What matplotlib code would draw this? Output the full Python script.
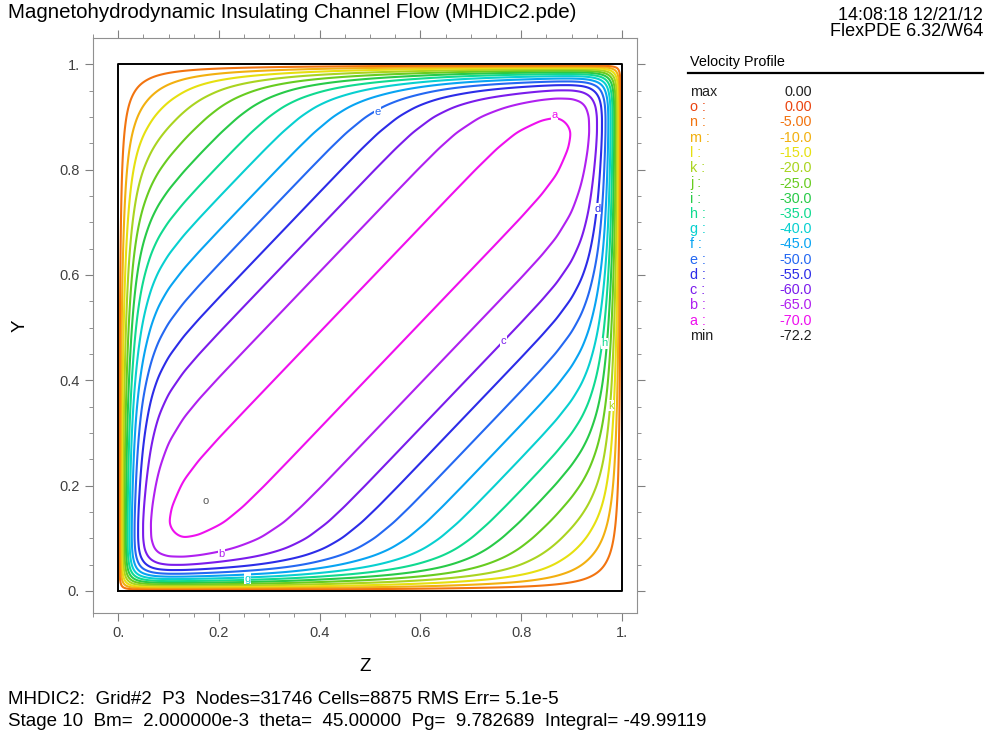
import numpy as np
import matplotlib
matplotlib.use('Agg')
import matplotlib.pyplot as plt

plt.rcParams['font.family'] = ['Liberation Sans', 'DejaVu Sans']

# contour levels of the velocity plot (FlexPDE letters a..o)
level_names = ['a', 'b', 'c', 'd', 'e', 'f', 'g', 'h', 'i', 'j', 'k', 'l', 'm', 'n', 'o']
levels = [-70.0, -65.0, -60.0, -55.0, -50.0, -45.0, -40.0, -35.0, -30.0,
          -25.0, -20.0, -15.0, -10.0, -5.0, 0.0]
level_text = ['-70.0', '-65.0', '-60.0', '-55.0', '-50.0', '-45.0', '-40.0', '-35.0',
              '-30.0', '-25.0', '-20.0', '-15.0', '-10.0', '-5.00', '0.00']
level_colors = ['#ee10ee', '#b020f0', '#7a1cec', '#2c2ce8', '#2468f2', '#08a4f2',
                '#08d0d0', '#10da90', '#28ca48', '#68cc20', '#aad420', '#e6e010',
                '#f2b010', '#f27410', '#ea4410']

# velocity across the diagonal (d = |y - z|)
core_d = [0.0, 0.025, 0.05, 0.095, 0.21, 0.295, 0.357, 0.41, 0.485, 0.548, 0.61,
          0.667, 0.717, 0.8, 0.9, 0.946, 1.0]
core_u = [-72.2, -72.05, -71.6, -70.0, -65.0, -60.0, -55.0, -50.8, -45.0, -40.0,
          -35.0, -30.0, -26.0, -19.0, -9.4, -5.0, 0.0]

# fraction of the core velocity kept near a wall (Hartmann layer)
wall_x = [0.0, 0.005, 0.01, 0.02, 0.03, 0.04, 0.05, 0.065, 0.08, 0.1, 0.13,
          0.16, 0.2, 0.25, 1.0]
wall_f = [0.0, 0.18, 0.33, 0.55, 0.70, 0.80, 0.865, 0.926, 0.96, 0.982, 0.9945,
          0.9983, 0.9997, 1.0, 1.0]

# contour letters drawn on the plot
tag_names = ['a', 'b', 'c', 'd', 'e', 'h', 'k', 'g']
tag_z = [0.866, 0.205, 0.765, 0.951, 0.515, 0.966, 0.978, 0.256]
tag_y = [0.903, 0.070, 0.474, 0.726, 0.910, 0.470, 0.352, 0.023]

info1 = 'MHDIC2:  Grid#2  P3  Nodes=31746 Cells=8875 RMS Err= 5.1e-5'
info2 = 'Stage 10  Bm=  2.000000e-3  theta=  45.00000  Pg=  9.782689  Integral= -49.99119'


def smoothed(xp, fp, lo, hi, sigma, odd=False):
    # piecewise-linear table, softened with a small gaussian so contours have no kinks
    x = np.linspace(lo, hi, 6001)
    sgn = np.sign(x) if odd else 1.0
    f = sgn * np.interp(np.abs(x), xp, fp)
    dx = x[1] - x[0]
    k = np.arange(-int(4 * sigma / dx), int(4 * sigma / dx) + 1) * dx
    k = np.exp(-0.5 * (k / sigma) ** 2)
    k /= k.sum()
    n = len(k) // 2
    fpad = np.concatenate([np.full(n, f[0]), f, np.full(n, f[-1])])
    return x, np.convolve(fpad, k, mode='valid')


cx, cu = smoothed(core_d, core_u, -1.3, 1.3, 0.035)
wx, wf = smoothed(wall_x, wall_f, -0.4, 1.0, 0.005, odd=True)

g = np.linspace(0, 1, 1001)
Z, Y = np.meshgrid(g, g)
wall = lambda x: np.interp(x, wx, wf)
F = wall(Z) * wall(1 - Z) * wall(Y) * wall(1 - Y)
U = np.interp(Y - Z, cx, cu) * F

W, H = 988, 738
fig = plt.figure(figsize=(W / 100, H / 100), dpi=100)
ax = fig.add_axes([93 / W, 1 - 613 / H, 544 / W, 575 / H])

ax.contour(Z, Y, U, levels=levels[:-1], colors=level_colors[:-1], linewidths=1.5)
ax.plot([0, 1, 1, 0, 0], [0, 0, 1, 1, 0], color='black', lw=1.4, zorder=5)

for name, tz, ty in zip(tag_names, tag_z, tag_y):
    c = level_colors[level_names.index(name)]
    ax.text(tz, ty, name, color=c, fontsize=8, ha='center', va='center', zorder=6,
            bbox=dict(facecolor='white', edgecolor='none', pad=0.3))
ax.text(0.173, 0.17, 'o', color='#555555', fontsize=8, ha='center', va='center')

ax.set_xlim(-0.05, 1.03)
ax.set_ylim(-0.042, 1.05)
ticks = [0, 0.2, 0.4, 0.6, 0.8, 1.0]
tick_lbl = ['0.', '0.2', '0.4', '0.6', '0.8', '1.']
ax.set_xticks(ticks, tick_lbl)
ax.set_yticks(ticks, tick_lbl)
ax.set_xticks(np.arange(-0.05, 1.03, 0.05), minor=True)
ax.set_yticks(np.arange(-0.0, 1.05, 0.05), minor=True)
ax.tick_params(which='both', direction='out', color='#808080', labelcolor='#404040',
               labelsize=10.5, top=True, right=True)
ax.tick_params(which='major', length=6)
ax.tick_params(which='minor', length=3)
for s in ax.spines.values():
    s.set_color('#909090')
ax.set_xlabel('Z', fontsize=13.5, labelpad=13)
ax.set_ylabel('Y', fontsize=13.5, labelpad=22)

fig.text(8 / W, 1 - 13 / H, 'Magnetohydrodynamic Insulating Channel Flow (MHDIC2.pde)',
         fontsize=14.8, va='center', ha='left')
fig.text(983 / W, 1 - 15 / H, '14:08:18 12/21/12', fontsize=13, ha='right', va='center')
fig.text(983 / W, 1 - 31 / H, 'FlexPDE 6.32/W64', fontsize=13, ha='right', va='center')

# legend block
fig.text(690 / W, 1 - 62 / H, 'Velocity Profile', fontsize=10.4, va='center')
fig.add_artist(plt.Line2D([688 / W, 983 / W], [1 - 73 / H, 1 - 73 / H], color='black', lw=1.6))
rows = ['max'] + level_names[::-1] + ['min']
vals = ['0.00'] + level_text[::-1] + ['-72.2']
cols = ['#222222'] + level_colors[::-1] + ['#222222']
for i, (r, v, c) in enumerate(zip(rows, vals, cols)):
    yy = 1 - (92 + i * 15.25) / H
    lab = r if r in ('max', 'min') else r + ' :'
    fig.text(690 / W, yy, lab, color=c, fontsize=10.4, va='center')
    fig.text(812 / W, yy, v, color=c, fontsize=10.4, va='center', ha='right')

fig.text(8 / W, 1 - 700 / H, info1, fontsize=13.5, va='center')
fig.text(8 / W, 1 - 722 / H, info2, fontsize=13.5, va='center')

fig.savefig('out.png', dpi=100)
